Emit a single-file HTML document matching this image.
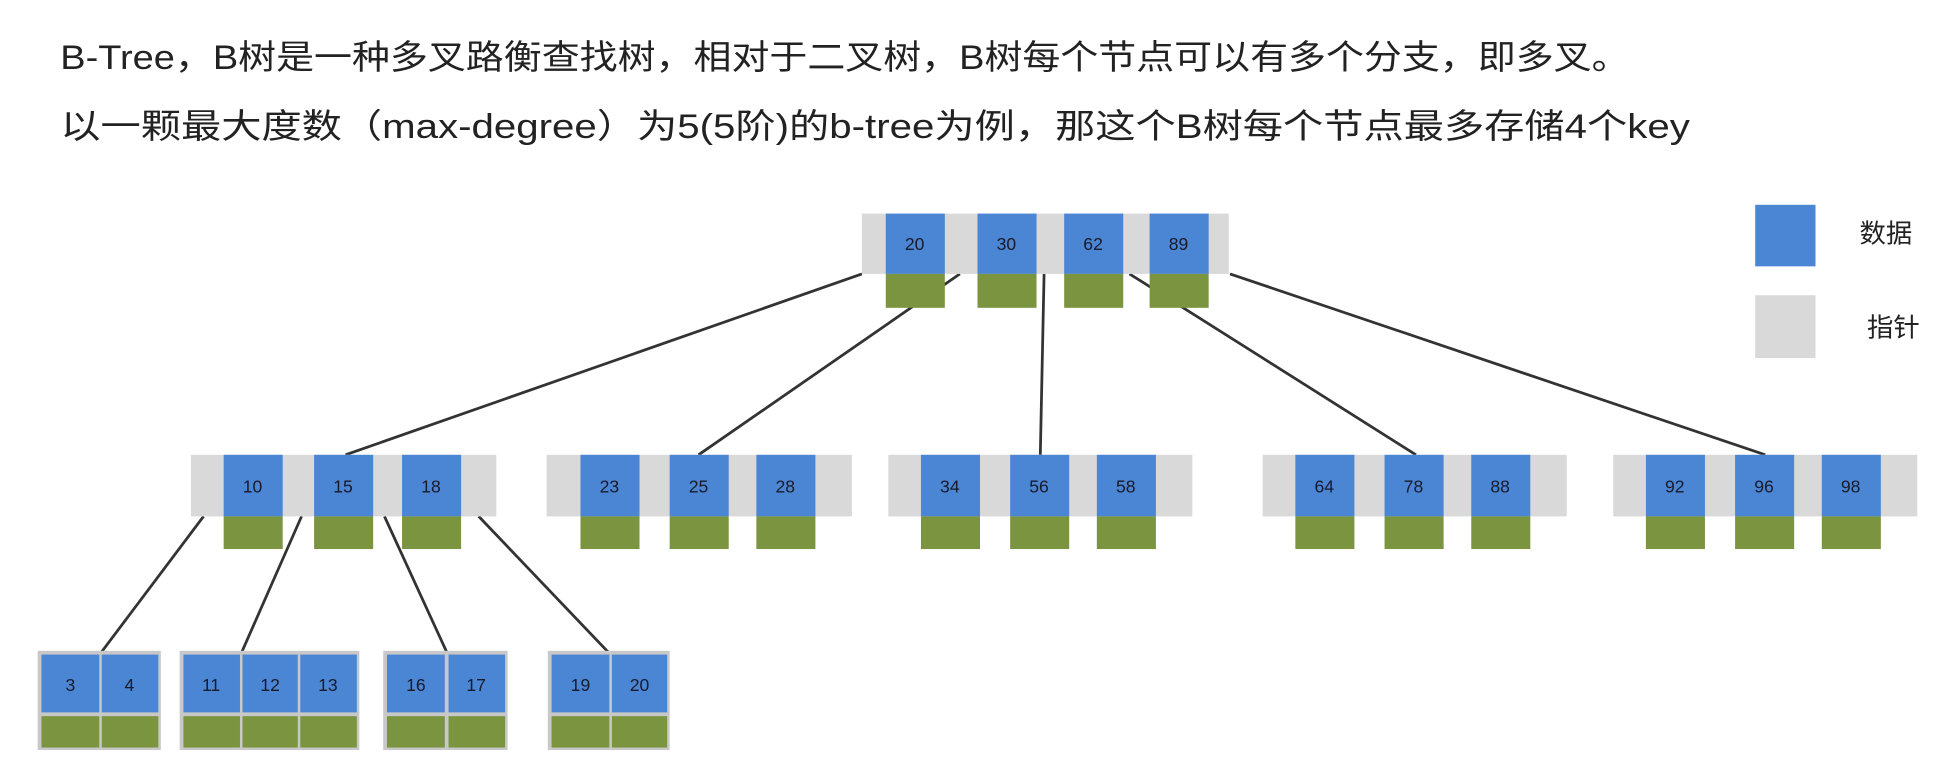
<!DOCTYPE html>
<html><head><meta charset="utf-8"><style>
html,body{margin:0;padding:0;background:#fff;width:1960px;height:761px;overflow:hidden}
svg{display:block}
.t{font-family:"Liberation Sans","Noto Sans CJK SC",sans-serif;fill:#222}
.n{font-family:"Liberation Sans",sans-serif;font-size:14px;fill:#1a1a2a;text-anchor:middle}
</style></head><body>
<svg width="1960" height="761" viewBox="0 0 1560 605.7" xmlns="http://www.w3.org/2000/svg">
<text class="t" x="48" y="55" font-size="27" textLength="1249" lengthAdjust="spacingAndGlyphs">B-Tree，B树是一种多叉路衡查找树，相对于二叉树，B树每个节点可以有多个分支，即多叉。</text>
<text class="t" x="48" y="110" font-size="27" textLength="1297" lengthAdjust="spacingAndGlyphs">以一颗最大度数（max-degree）为5(5阶)的b-tree为例，那这个B树每个节点最多存储4个key</text>
<g stroke="#333" stroke-width="2.2">
<line x1="686" y1="218" x2="275" y2="362"/>
<line x1="764" y1="218" x2="556" y2="362"/>
<line x1="831" y1="218" x2="828" y2="362"/>
<line x1="899" y1="218" x2="1127" y2="362"/>
<line x1="979" y1="218" x2="1405" y2="362"/>
<line x1="162" y1="411" x2="80" y2="520"/>
<line x1="240" y1="411" x2="192" y2="520"/>
<line x1="306" y1="411" x2="356" y2="520"/>
<line x1="381" y1="411" x2="485" y2="520"/>
</g>
<rect x="686" y="170" width="292" height="48" fill="#d9d9d9"/>
<g fill="#4a86d4"><rect x="705" y="170" width="47" height="48"/><rect x="778" y="170" width="47" height="48"/><rect x="847" y="170" width="47" height="48"/><rect x="915" y="170" width="47" height="48"/></g>
<g fill="#7a9440"><rect x="705" y="218" width="47" height="27"/><rect x="778" y="218" width="47" height="27"/><rect x="847" y="218" width="47" height="27"/><rect x="915" y="218" width="47" height="27"/></g>
<text class="n" x="728" y="199">20</text><text class="n" x="801" y="199">30</text><text class="n" x="870" y="199">62</text><text class="n" x="938" y="199">89</text>
<rect x="1397" y="163" width="48" height="49" fill="#4a86d4"/>
<rect x="1397" y="235" width="48" height="50" fill="#d9d9d9"/>
<text class="t" x="1480" y="193" font-size="21">数据</text>
<text class="t" x="1486" y="268" font-size="21">指针</text>
<g fill="#d9d9d9">
<rect x="152" y="362" width="243" height="49"/><rect x="435" y="362" width="243" height="49"/><rect x="707" y="362" width="242" height="49"/><rect x="1005" y="362" width="242" height="49"/><rect x="1284" y="362" width="242" height="49"/>
</g>
<g fill="#4a86d4">
<rect x="178" y="362" width="47" height="49"/><rect x="250" y="362" width="47" height="49"/><rect x="320" y="362" width="47" height="49"/>
<rect x="462" y="362" width="47" height="49"/><rect x="533" y="362" width="47" height="49"/><rect x="602" y="362" width="47" height="49"/>
<rect x="733" y="362" width="47" height="49"/><rect x="804" y="362" width="47" height="49"/><rect x="873" y="362" width="47" height="49"/>
<rect x="1031" y="362" width="47" height="49"/><rect x="1102" y="362" width="47" height="49"/><rect x="1171" y="362" width="47" height="49"/>
<rect x="1310" y="362" width="47" height="49"/><rect x="1381" y="362" width="47" height="49"/><rect x="1450" y="362" width="47" height="49"/>
</g>
<g fill="#7a9440">
<rect x="178" y="411" width="47" height="26"/><rect x="250" y="411" width="47" height="26"/><rect x="320" y="411" width="47" height="26"/>
<rect x="462" y="411" width="47" height="26"/><rect x="533" y="411" width="47" height="26"/><rect x="602" y="411" width="47" height="26"/>
<rect x="733" y="411" width="47" height="26"/><rect x="804" y="411" width="47" height="26"/><rect x="873" y="411" width="47" height="26"/>
<rect x="1031" y="411" width="47" height="26"/><rect x="1102" y="411" width="47" height="26"/><rect x="1171" y="411" width="47" height="26"/>
<rect x="1310" y="411" width="47" height="26"/><rect x="1381" y="411" width="47" height="26"/><rect x="1450" y="411" width="47" height="26"/>
</g>
<g>
<text class="n" x="201" y="392">10</text><text class="n" x="273" y="392">15</text><text class="n" x="343" y="392">18</text>
<text class="n" x="485" y="392">23</text><text class="n" x="556" y="392">25</text><text class="n" x="625" y="392">28</text>
<text class="n" x="756" y="392">34</text><text class="n" x="827" y="392">56</text><text class="n" x="896" y="392">58</text>
<text class="n" x="1054" y="392">64</text><text class="n" x="1125" y="392">78</text><text class="n" x="1194" y="392">88</text>
<text class="n" x="1333" y="392">92</text><text class="n" x="1404" y="392">96</text><text class="n" x="1473" y="392">98</text>
</g>
<g fill="#c8c8c8">
<rect x="30" y="518" width="98" height="79"/><rect x="143" y="518" width="143" height="79"/><rect x="305" y="518" width="99" height="79"/><rect x="436" y="518" width="97" height="79"/>
</g>
<g fill="#4a86d4">
<rect x="33" y="521" width="46" height="46"/><rect x="81" y="521" width="45" height="46"/>
<rect x="146" y="521" width="45" height="46"/><rect x="193" y="521" width="44" height="46"/><rect x="239" y="521" width="45" height="46"/>
<rect x="308" y="521" width="46" height="46"/><rect x="357" y="521" width="45" height="46"/>
<rect x="439" y="521" width="46" height="46"/><rect x="487" y="521" width="44" height="46"/>
</g>
<g fill="#7a9440">
<rect x="33" y="570" width="46" height="25"/><rect x="81" y="570" width="45" height="25"/>
<rect x="146" y="570" width="45" height="25"/><rect x="193" y="570" width="44" height="25"/><rect x="239" y="570" width="45" height="25"/>
<rect x="308" y="570" width="46" height="25"/><rect x="357" y="570" width="45" height="25"/>
<rect x="439" y="570" width="46" height="25"/><rect x="487" y="570" width="44" height="25"/>
</g>
<text class="n" x="56" y="550">3</text><text class="n" x="103" y="550">4</text>
<text class="n" x="168" y="550">11</text><text class="n" x="215" y="550">12</text><text class="n" x="261" y="550">13</text>
<text class="n" x="331" y="550">16</text><text class="n" x="379" y="550">17</text>
<text class="n" x="462" y="550">19</text><text class="n" x="509" y="550">20</text>
</svg>
</body></html>
